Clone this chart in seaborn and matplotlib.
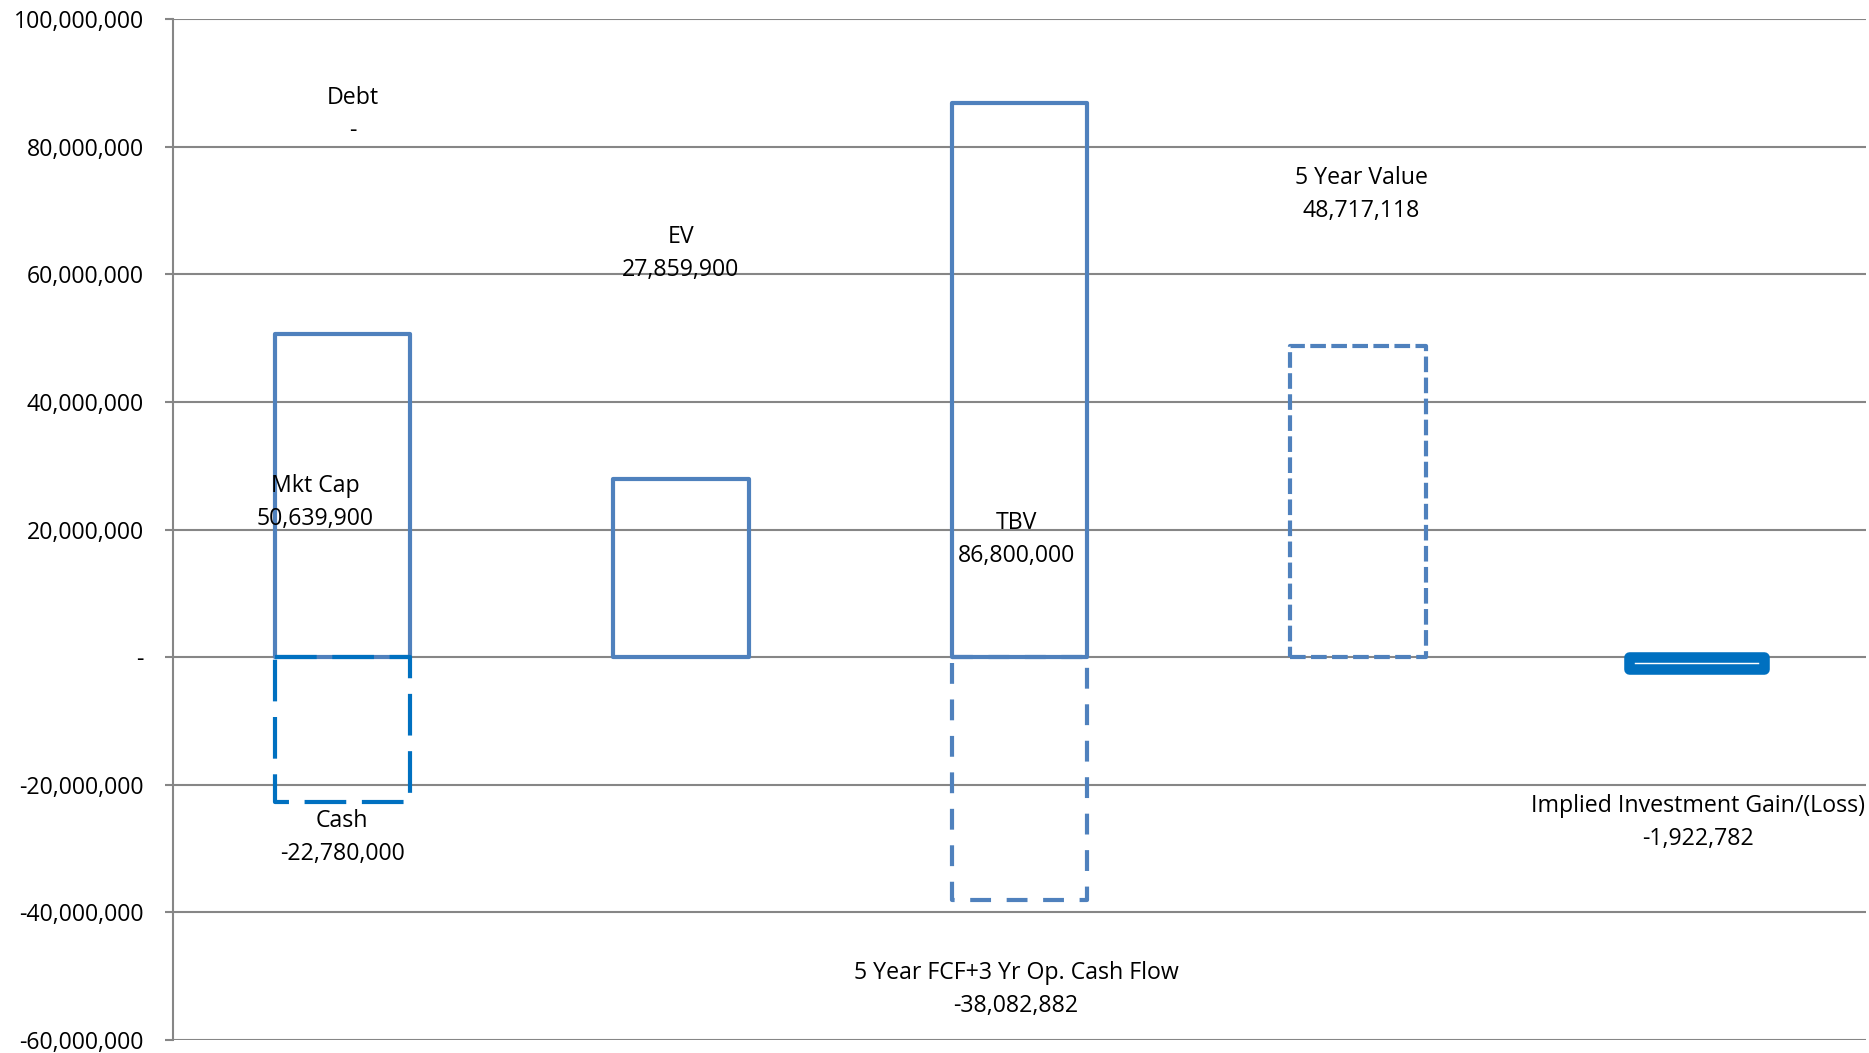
import pandas as pd
import matplotlib.pyplot as plt
import seaborn as sns
from matplotlib.ticker import FuncFormatter, MultipleLocator

# categorias (uma coluna por grupo no gráfico original)
categorias = ['grupo1', 'grupo2', 'grupo3', 'grupo4', 'grupo5']

# séries de valores
mkt_cap = 50639900
ev = 27859900
tbv = 86800000
debt = 0
cash = -22780000
fcf_op = -38082882
five_year_value = 48717118
gain_loss = -1922782

valores_solidos = [mkt_cap, ev, tbv]
cats_solidos = ['grupo1', 'grupo2', 'grupo3']

# rótulos de texto: (nome, valor, categoria, deslocamento x, posição y)
rotulos = [
    ('Debt', debt, 'grupo1', 0.03, 85.1e6),
    ('Mkt Cap', mkt_cap, 'grupo1', -0.08, 24.3e6),
    ('Cash', cash, 'grupo1', 0.0, -28.3e6),
    ('EV', ev, 'grupo2', 0.0, 63.3e6),
    ('TBV', tbv, 'grupo3', -0.01, 18.5e6),
    ('5 Year FCF+3 Yr Op. Cash Flow', fcf_op, 'grupo3', -0.01, -52.1e6),
    ('5 Year Value', five_year_value, 'grupo4', 0.01, 72.5e6),
    ('Implied Investment Gain/(Loss)', gain_loss, 'grupo5', 0.005, -25.9e6),
]

azul = '#4F81BD'
azul_forte = '#0070C0'
cinza = '#868686'
tamanho = 16.7

sns.set_theme(style="white")
plt.rcParams['font.family'] = ['Open Sans', 'DejaVu Sans']

fig = plt.figure(figsize=(18.69, 10.53), dpi=100)
ax = fig.add_axes([173 / 1869, 1 - 1040 / 1053, (1866 - 173) / 1869, (1040 - 19) / 1053])

lw = 3.0
comum = dict(x='categoria', y='valor', order=categorias, fill=False, width=0.4,
             errorbar=None, ax=ax, joinstyle='round')

df_tbv_fcf = pd.DataFrame({'categoria': ['grupo3'], 'valor': [fcf_op]})
sns.barplot(data=df_tbv_fcf, color=azul, linewidth=lw, linestyle=(0, (5, 3.75)), **comum)

df_solidos = pd.DataFrame({'categoria': cats_solidos, 'valor': valores_solidos})
sns.barplot(data=df_solidos, color=azul, linewidth=lw, **comum)

df_cash = pd.DataFrame({'categoria': ['grupo1'], 'valor': [cash]})
sns.barplot(data=df_cash, color=azul_forte, linewidth=lw, linestyle=(0, (10, 3.75)), **comum)

df_5y = pd.DataFrame({'categoria': ['grupo4'], 'valor': [five_year_value]})
sns.barplot(data=df_5y, color=azul, linewidth=lw, linestyle=(0, (3.75, 1.3)), **comum)

df_gain = pd.DataFrame({'categoria': ['grupo5'], 'valor': [gain_loss]})
sns.barplot(data=df_gain, color=azul_forte, linewidth=7.6, **comum)

# rótulos de dados
for nome, valor, cat, dx, ypos in rotulos:
    txt_valor = '-' if valor == 0 else f'{valor:,.0f}'
    ax.text(categorias.index(cat) + dx, ypos, f'{nome}\n{txt_valor}', ha='center', va='center',
            fontsize=tamanho, color='black', linespacing=1.5)

# eixos
ax.set_xlim(-0.5, 4.5)
ax.set_ylim(-60e6, 100e6)
ax.yaxis.set_major_locator(MultipleLocator(20e6))
ax.yaxis.set_major_formatter(FuncFormatter(lambda v, p: '-' if abs(v) < 1 else f'{v:,.0f}'))
ax.set_xticks([])
ax.set_xlabel('')
ax.set_ylabel('')
ax.yaxis.grid(True, color=cinza, linewidth=1.5)
ax.set_axisbelow(True)
for lado in ['top', 'right', 'bottom']:
    ax.spines[lado].set_visible(False)
ax.spines['left'].set_color(cinza)
ax.spines['left'].set_linewidth(1.5)
ax.tick_params(axis='y', left=True, direction='out', length=5.5, width=1.5, color=cinza,
               labelsize=tamanho, labelcolor='black', pad=15.5)

plt.savefig('out.png', dpi=100)
